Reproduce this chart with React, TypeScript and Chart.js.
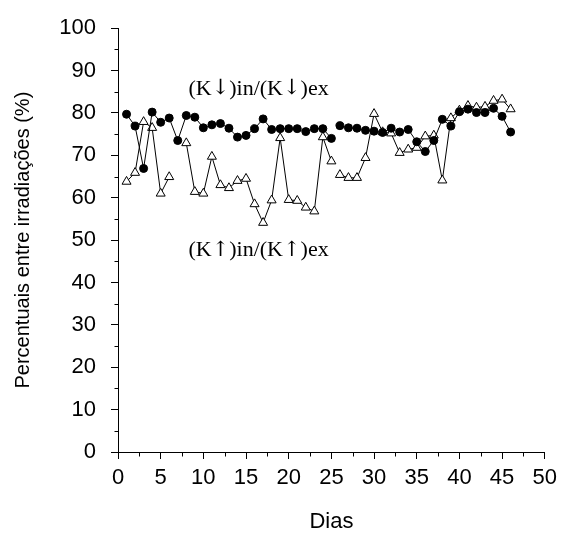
import React, { useEffect, useRef } from 'react';
import { Chart, registerables } from 'chart.js';

Chart.register(...registerables);

// ---- data ----
const days = [
  1, 2, 3, 4, 5, 6, 7, 8, 9, 10, 11, 12, 13, 14, 15, 16, 17, 18, 19, 20, 21, 22, 23,
  24, 25, 26, 27, 28, 29, 30, 31, 32, 33, 34, 35, 36, 37, 38, 39, 40, 41, 42, 43, 44, 45, 46,
];
// (K↓)in/(K↓)ex  — filled circles
const downRatio = [
  79.7, 76.9, 66.9, 80.2, 77.8, 78.8, 73.5, 79.4, 79.0, 76.5, 77.2, 77.5, 76.4, 74.3, 74.7, 76.3,
  78.6, 76.1, 76.3, 76.3, 76.3, 75.6, 76.3, 76.3, 74.0, 77.0, 76.5, 76.4, 75.9, 75.7, 75.4, 76.4,
  75.5, 76.1, 73.2, 70.9, 73.5, 78.5, 76.9, 80.3, 80.9, 80.1, 80.1, 81.1, 79.2, 75.5,
];
// (K↑)in/(K↑)ex  — open triangles
const upRatio = [
  63.8, 65.9, 77.9, 76.5, 61.0, 64.9, null, 72.9, 61.4, 61.0, 69.7, 63.0, 62.3, 64.0, 64.5, 58.5,
  54.1, 59.4, 74.1, 59.5, 59.3, 57.7, 56.8, 74.3, 68.6, 65.4, 64.7, 64.7, 69.4, 79.8, 75.5, 75.2,
  70.6, 71.4, 71.8, 74.5, 74.7, 64.1, 78.8, 80.6, 81.7, 81.3, 81.5, 82.9, 83.2, 80.9,
];
const lineBreaksAfter = [25];
const seriesLabels = ['(K↓)in/(K↓)ex', '(K↑)in/(K↑)ex'];
const xMajorTicks = [0, 5, 10, 15, 20, 25, 30, 35, 40, 45, 50];
const yMajorTicks = [0, 10, 20, 30, 40, 50, 60, 70, 80, 90, 100];
const xTitle = 'Dias';
const yTitle = 'Percentuais entre irradiações (%)';

// label anchor positions (in data units)
const labelAnchors = [
  { x: 8.25, y: 85.7 },
  { x: 8.25, y: 47.5 },
];

const SANS = '"Liberation Sans", Arial, Helvetica, sans-serif';
const SERIF = '"Liberation Serif", "Times New Roman", serif';
const ARROW_FONT = '"DejaVu Serif", serif';

function toPoints(values: (number | null)[]) {
  const pts: { x: number; y: number | null }[] = [];
  days.forEach((d, i) => {
    pts.push({ x: d, y: values[i] });
    if (lineBreaksAfter.includes(d)) pts.push({ x: d + 0.5, y: null });
  });
  return pts;
}

function drawMixedText(ctx: CanvasRenderingContext2D, text: string, x: number, y: number) {
  // split into runs: arrows use a font with larger arrow glyphs
  const runs: { t: string; arrow: boolean }[] = [];
  for (const ch of Array.from(text)) {
    const arrow = ch === '↓' || ch === '↑';
    const last = runs[runs.length - 1];
    if (last && last.arrow === arrow) last.t += ch;
    else runs.push({ t: ch, arrow });
  }
  let cx = x;
  for (const r of runs) {
    ctx.font = r.arrow ? `21px ${ARROW_FONT}` : `22px ${SERIF}`;
    ctx.fillText(r.t, cx, y);
    cx += ctx.measureText(r.t).width;
  }
}

const extrasPlugin = {
  id: 'extras',
  afterDraw(chart: any) {
    const { ctx, scales } = chart;
    const xs = scales.x;
    const ys = scales.y;
    ctx.save();
    ctx.strokeStyle = '#000';
    ctx.lineWidth = 1;
    // minor ticks
    const bottom = Math.round(ys.getPixelForValue(0)) + 0.5;
    const left = Math.round(xs.getPixelForValue(0)) + 0.5;
    ctx.beginPath();
    for (let i = 0; i < xMajorTicks.length - 1; i++) {
      const v = (xMajorTicks[i] + xMajorTicks[i + 1]) / 2;
      const px = Math.round(xs.getPixelForValue(v)) + 0.5;
      ctx.moveTo(px, bottom);
      ctx.lineTo(px, bottom + 4);
    }
    for (let i = 0; i < yMajorTicks.length - 1; i++) {
      const v = (yMajorTicks[i] + yMajorTicks[i + 1]) / 2;
      const py = Math.round(ys.getPixelForValue(v)) + 0.5;
      ctx.moveTo(left - 4, py);
      ctx.lineTo(left, py);
    }
    ctx.stroke();
    // series labels
    ctx.fillStyle = '#000';
    ctx.textAlign = 'left';
    ctx.textBaseline = 'middle';
    seriesLabels.forEach((t, i) => {
      drawMixedText(ctx, t, xs.getPixelForValue(labelAnchors[i].x), ys.getPixelForValue(labelAnchors[i].y));
    });
    ctx.restore();
  },
};

export default function App() {
  const ref = useRef<HTMLCanvasElement | null>(null);
  useEffect(() => {
    if (!ref.current) return;
    const chart = new Chart(ref.current, {
      type: 'line',
      data: {
        datasets: [
          {
            label: seriesLabels[0],
            data: toPoints(downRatio),
            borderColor: '#000',
            borderWidth: 1,
            backgroundColor: '#000',
            pointStyle: 'circle',
            pointRadius: 4,
            pointBorderWidth: 1,
            pointBackgroundColor: '#000',
            pointBorderColor: '#000',
            tension: 0,
            spanGaps: false,
          },
          {
            label: seriesLabels[1],
            data: toPoints(upRatio),
            borderColor: '#000',
            borderWidth: 1,
            backgroundColor: '#fff',
            pointStyle: 'triangle',
            pointRadius: 5.2,
            pointBorderWidth: 1,
            pointBackgroundColor: '#fff',
            pointBorderColor: '#000',
            tension: 0,
            spanGaps: false,
          },
        ],
      },
      options: {
        animation: false,
        responsive: false,
        events: [],
        layout: { padding: { top: 20, right: 15, left: 0, bottom: 0 } },
        plugins: { legend: { display: false }, tooltip: { enabled: false } },
        scales: {
          x: {
            type: 'linear',
            min: 0,
            max: 50,
            afterFit: (s: any) => {
              s.height = 83;
            },
            afterBuildTicks: (s: any) => {
              s.ticks = xMajorTicks.map((v) => ({ value: v }));
            },
            border: { display: true, color: '#000', width: 1 },
            grid: { drawOnChartArea: false, drawTicks: true, tickLength: 7, tickColor: '#000' },
            ticks: {
              color: '#000',
              font: { family: SANS, size: 22 },
              padding: 6,
              maxRotation: 0,
              autoSkip: false,
            },
            title: {
              display: true,
              text: xTitle,
              color: '#000',
              font: { family: SANS, size: 22 },
              padding: { top: 0, bottom: 0 },
            },
          },
          y: {
            type: 'linear',
            min: 0,
            max: 100,
            afterFit: (s: any) => {
              s.width = 118;
            },
            afterBuildTicks: (s: any) => {
              s.ticks = yMajorTicks.map((v) => ({ value: v }));
            },
            border: { display: true, color: '#000', width: 1 },
            grid: { drawOnChartArea: false, drawTicks: true, tickLength: 7, tickColor: '#000' },
            ticks: {
              color: '#000',
              font: { family: SANS, size: 22 },
              padding: 15,
              autoSkip: false,
            },
            title: {
              display: true,
              text: yTitle,
              color: '#000',
              font: { family: SANS, size: 20 },
              padding: { top: 11, bottom: 0 },
            },
          },
        },
      },
      plugins: [extrasPlugin],
    });
    return () => chart.destroy();
  }, []);
  return (
    <div style={{ position: 'fixed', left: 0, top: 0, width: 563, height: 535, background: '#fff' }}>
      <canvas ref={ref} width={563} height={535} style={{ display: 'block' }} />
    </div>
  );
}
